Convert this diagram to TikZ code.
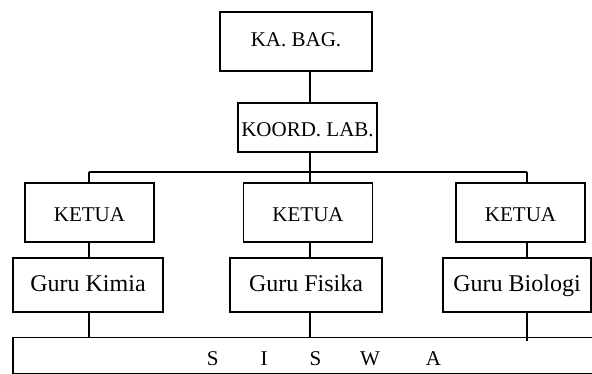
\documentclass[tikz,border=0pt]{standalone}
\usepackage{fontspec}
\setmainfont{Liberation Serif}
\usepackage{tikz}
\tikzstyle{base} = [rectangle, draw=black, line width=1.8pt, inner sep=0pt, text height=14pt, text depth=0pt, text centered, font=\fontsize{21}{24}\selectfont]
\tikzstyle{headbox} = [base, minimum width=152pt, minimum height=59pt, text height=11pt]
\tikzstyle{koordbox} = [base, minimum width=139pt, minimum height=49pt, text height=19pt]
\tikzstyle{ketuabox} = [base, minimum width=129pt, minimum height=59pt, text height=19pt]
\tikzstyle{gurubox} = [base, minimum width=150pt, minimum height=54pt, text height=12pt, font=\fontsize{24}{28}\selectfont]
\tikzstyle{siswabox} = [base, minimum width=622pt, minimum height=36pt, text height=20pt]
\tikzstyle{line} = [line width=1.4pt]

\begin{document}
\begin{tikzpicture}[x=1pt, y=-1pt]
    \useasboundingbox (0,0) rectangle (592,374);
    \node (kabag) [headbox] at (296,41.5) {KA. BAG.};
    \node (koord) [koordbox] at (307.5,127.5) {KOORD. LAB.};
    \node (ketua1) [ketuabox] at (89.5,212.5) {KETUA};
    \node (ketua2) [ketuabox] at (308,212.5) {KETUA};
    \node (ketua3) [ketuabox] at (520.5,212.5) {KETUA};
    \node (guru1) [gurubox] at (88,285) {Guru Kimia};
    \node (guru2) [gurubox, minimum width=152pt] at (306,285) {Guru Fisika};
    \node (guru3) [gurubox, minimum width=148pt] at (517,285) {Guru Biologi};
    \node (siswa) [siswabox] at (324,355.5) {S\hspace{42pt}I\hspace{42pt}S\hspace{39pt}W\hspace{46pt}A};
    \coordinate (bus1) at (89,172);
    \coordinate (bus2) at (310,172);
    \coordinate (bus3) at (527,172);

    \draw[line] (koord.north -| bus2) -- (kabag.south -| bus2);
    \draw[line] (koord.south -| bus2) -- (bus2);
    \draw[line] (bus1) -- (bus3);
    \draw[line] (bus1) -- (ketua1.north -| bus1);
    \draw[line] (bus2) -- (ketua2.north -| bus2);
    \draw[line] (bus3) -- (ketua3.north -| bus3);
    \draw[line] (ketua1.south -| bus1) -- (guru1.north -| bus1);
    \draw[line] (ketua2.south -| bus2) -- (guru2.north -| bus2);
    \draw[line] (ketua3.south -| bus3) -- (guru3.north -| bus3);
    \draw[line] (guru1.south -| bus1) -- (siswa.north -| bus1);
    \draw[line] (guru2.south -| bus2) -- (siswa.north -| bus2);
    \draw[line] (guru3.south -| bus3) -- ([yshift=-4pt]siswa.north -| bus3);
\end{tikzpicture}
\end{document}
